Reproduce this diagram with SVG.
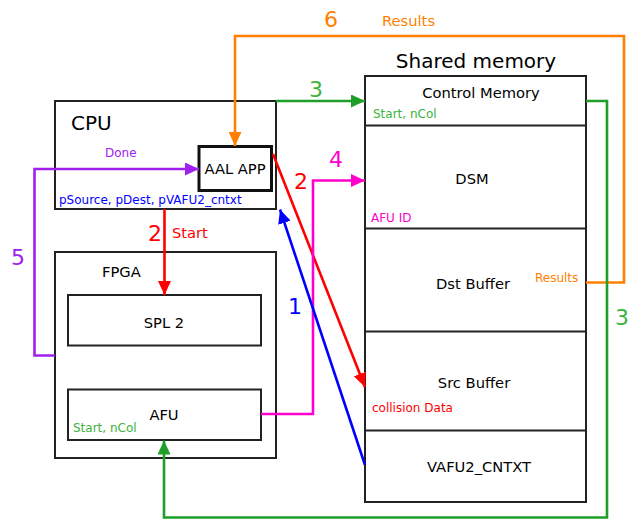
<svg xmlns="http://www.w3.org/2000/svg" width="633" height="519" viewBox="0 0 633 519">
  <defs>
    <style>
      text { font-family: "DejaVu Sans", Verdana, sans-serif; }
      .box { fill: #ffffff; stroke: #222222; stroke-width: 2; }
      .title { font-size: 20px; }
      .lbl { font-size: 14.7px; }
      .small { font-size: 12px; }
      .num { font-size: 22px; }
      .conn { fill: none; stroke-width: 2.6; }
    </style>
    <marker id="ah-orange" viewBox="0 0 14 13" refX="14" refY="6.5" markerWidth="14" markerHeight="13" markerUnits="userSpaceOnUse" orient="auto"><path d="M0,0 L14,6.5 L0,13 z" fill="#ff8000"/></marker>
    <marker id="ah-green" viewBox="0 0 14 13" refX="14" refY="6.5" markerWidth="14" markerHeight="13" markerUnits="userSpaceOnUse" orient="auto"><path d="M0,0 L14,6.5 L0,13 z" fill="#1f9e2a"/></marker>
    <marker id="ah-red" viewBox="0 0 14 13" refX="14" refY="6.5" markerWidth="14" markerHeight="13" markerUnits="userSpaceOnUse" orient="auto"><path d="M0,0 L14,6.5 L0,13 z" fill="#ff0000"/></marker>
    <marker id="ah-magenta" viewBox="0 0 14 13" refX="14" refY="6.5" markerWidth="14" markerHeight="13" markerUnits="userSpaceOnUse" orient="auto"><path d="M0,0 L14,6.5 L0,13 z" fill="#ff00cc"/></marker>
    <marker id="ah-purple" viewBox="0 0 14 13" refX="14" refY="6.5" markerWidth="14" markerHeight="13" markerUnits="userSpaceOnUse" orient="auto"><path d="M0,0 L14,6.5 L0,13 z" fill="#a020f0"/></marker>
    <marker id="ah-blue" viewBox="0 0 14 13" refX="14" refY="6.5" markerWidth="14" markerHeight="13" markerUnits="userSpaceOnUse" orient="auto"><path d="M0,0 L14,6.5 L0,13 z" fill="#0000ff"/></marker>
  </defs>

  <rect width="633" height="519" fill="#ffffff"/>

  <!-- CPU -->
  <g id="cpu">
    <rect class="box" x="55" y="101" width="221" height="108"/>
    <text class="title" x="71" y="130" fill="#000000">CPU</text>
    <text class="small" x="105" y="157" fill="#a020f0">Done</text>
    <text class="small" x="59" y="204" fill="#0000ff">pSource, pDest, pVAFU2_cntxt</text>
  </g>
  <g id="aal-app">
    <rect x="199" y="146.5" width="72.5" height="44" fill="#ffffff" stroke="#111111" stroke-width="3"/>
    <text class="lbl" x="235" y="174" text-anchor="middle" fill="#000000">AAL APP</text>
  </g>

  <!-- FPGA -->
  <g id="fpga">
    <rect class="box" x="55" y="252" width="221" height="206"/>
    <text class="lbl" x="102" y="277" fill="#000000">FPGA</text>
  </g>
  <g id="spl2">
    <rect class="box" x="68" y="295" width="193" height="50.5"/>
    <text class="lbl" x="164" y="328" text-anchor="middle" fill="#000000">SPL 2</text>
  </g>
  <g id="afu">
    <rect class="box" x="68" y="389.5" width="193" height="50.5"/>
    <text class="lbl" x="164" y="420" text-anchor="middle" fill="#000000">AFU</text>
    <text class="small" x="73" y="432" fill="#3cb43c">Start, nCol</text>
  </g>

  <!-- Shared memory -->
  <g id="shared-memory">
    <text class="title" x="476" y="68" text-anchor="middle" fill="#000000">Shared memory</text>
    <rect class="box" x="365" y="76" width="221" height="426"/>
  </g>
  <g id="control-memory">
    <line x1="365" y1="125.5" x2="586" y2="125.5" stroke="#222222" stroke-width="2"/>
    <text class="lbl" x="481" y="98" text-anchor="middle" fill="#000000">Control Memory</text>
    <text class="small" x="373" y="118" fill="#3cb43c">Start, nCol</text>
  </g>
  <g id="dsm">
    <line x1="365" y1="228.5" x2="586" y2="228.5" stroke="#222222" stroke-width="2"/>
    <text class="lbl" x="472" y="184" text-anchor="middle" fill="#000000">DSM</text>
    <text class="small" x="371" y="222" fill="#ff00cc">AFU ID</text>
  </g>
  <g id="dst-buffer">
    <line x1="365" y1="331.5" x2="586" y2="331.5" stroke="#222222" stroke-width="2"/>
    <text class="lbl" x="473" y="289" text-anchor="middle" fill="#000000">Dst Buffer</text>
    <text class="small" x="535" y="282" fill="#ff8000">Results</text>
  </g>
  <g id="src-buffer">
    <line x1="365" y1="430.5" x2="586" y2="430.5" stroke="#222222" stroke-width="2"/>
    <text class="lbl" x="474" y="388" text-anchor="middle" fill="#000000">Src Buffer</text>
    <text class="small" x="372" y="412" fill="#ff0000">collision Data</text>
  </g>
  <g id="vafu2-cntxt">
    <text class="lbl" x="479" y="472" text-anchor="middle" fill="#000000">VAFU2_CNTXT</text>
  </g>

  <!-- Connectors -->
  <g id="connectors">
    <!-- 6: results back to the application -->
    <polyline class="conn" stroke="#ff8000" points="586,282.5 624,282.5 624,36 235,36 235,146" marker-end="url(#ah-orange)"/>
    <text class="num" x="324" y="27" fill="#ff8000">6</text>
    <text class="lbl" x="382" y="26" fill="#ff8000">Results</text>

    <!-- 3: start command into control memory -->
    <polyline class="conn" stroke="#1f9e2a" points="276,101 365,101" marker-end="url(#ah-green)"/>
    <text class="num" x="309" y="97" fill="#3cb43c">3</text>
    <!-- 3: control memory to AFU -->
    <polyline class="conn" stroke="#1f9e2a" points="586,101 607,101 607,517.5 164,517.5 164,440.5" marker-end="url(#ah-green)"/>
    <text class="num" x="615" y="325" fill="#3cb43c">3</text>

    <!-- 2: start signal to SPL 2 -->
    <polyline class="conn" stroke="#ff0000" points="164.5,209 164.5,295" marker-end="url(#ah-red)"/>
    <text class="num" x="148" y="241" fill="#ff0000">2</text>
    <text class="lbl" x="172" y="238" fill="#ff0000">Start</text>
    <!-- 2: collision data into source buffer -->
    <line class="conn" stroke="#ff0000" x1="273" y1="154" x2="365" y2="387" marker-end="url(#ah-red)"/>
    <text class="num" x="294" y="189" fill="#ff0000">2</text>

    <!-- 4: AFU writes DSM -->
    <polyline class="conn" stroke="#ff00cc" points="261,414 313,414 313,180.5 365,180.5" marker-end="url(#ah-magenta)"/>
    <text class="num" x="329" y="167" fill="#ff00cc">4</text>

    <!-- 5: done notification -->
    <polyline class="conn" stroke="#a020f0" points="55,355.5 34.5,355.5 34.5,169 199,169" marker-end="url(#ah-purple)"/>
    <text class="num" x="11" y="265" fill="#a020f0">5</text>

    <!-- 1: context pointer -->
    <line class="conn" stroke="#0000ff" x1="365" y1="465" x2="280" y2="209.5" marker-end="url(#ah-blue)"/>
    <text class="num" x="288" y="314" fill="#0000ff">1</text>
  </g>
</svg>
